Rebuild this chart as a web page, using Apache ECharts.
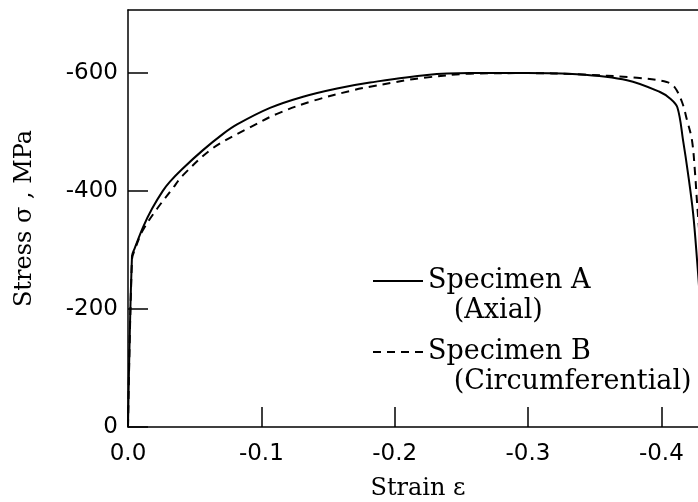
<!DOCTYPE html>
<html>
<head>
<meta charset="utf-8">
<script src="https://cdn.jsdelivr.net/npm/echarts@6/dist/echarts.min.js"></script>
<style>
html,body{margin:0;padding:0;background:#fff;}
#chart{width:698px;height:502px;}
</style>
</head>
<body>
<div id="chart"></div>
<script>
// Specimen A (Axial)
var strainA = [0, -0.003, -0.005, -0.0113, -0.018, -0.026, -0.0315, -0.0405, -0.056, -0.0713, -0.0818, -0.1065, -0.1313, -0.1568, -0.1815, -0.2243, -0.2565, -0.299, -0.3368, -0.3743, -0.399, -0.4065, -0.412, -0.4163, -0.42, -0.4238, -0.4268, -0.4295];
var stressA = [0, -290, -303, -339, -370, -400, -416, -437, -469, -497, -513, -541, -560, -574, -584, -597, -600, -600, -598, -588, -568, -557, -542, -486, -430, -363, -283, -200];
// Specimen B (Circumferential)
var strainB = [0, -0.003, -0.005, -0.011, -0.0218, -0.033, -0.0413, -0.0638, -0.0915, -0.1118, -0.1388, -0.1688, -0.1815, -0.1988, -0.2115, -0.2213, -0.2565, -0.299, -0.3368, -0.3818, -0.404, -0.41, -0.4155, -0.4193, -0.423, -0.4253, -0.4268, -0.4295];
var stressB = [0, -285, -300, -333, -370, -403, -427, -473, -508, -531, -553, -571, -577, -584, -589, -592, -599, -600, -598, -592, -585, -576, -551, -520, -486, -430, -380, -300];

var xTicks = [0, -0.1, -0.2, -0.3, -0.4];
var xTickLabels = ['0.0', '-0.1', '-0.2', '-0.3', '-0.4'];
var yTicks = [-600, -400, -200, 0];
var yTickLabels = ['-600', '-400', '-200', '0'];

var seriesNames = ['Specimen A', 'Specimen B'];
var seriesSub = ['(Axial)', '(Circumferential)'];

function pairs(xs, ys) { return xs.map(function (x, i) { return [x, ys[i]]; }); }

var chart = echarts.init(document.getElementById('chart'), null, {renderer: 'canvas'});
var axisLine = {show: true, lineStyle: {color: '#000', width: 1.5}};
chart.setOption({
  animation: false,
  backgroundColor: '#fff',
  grid: {left: 128, top: 10, right: 0, bottom: 75, containLabel: false, outerBoundsMode: 'none'},
  legend: {
    orient: 'vertical',
    left: 372, top: 236, padding: 0,
    itemWidth: 50, itemHeight: 14, itemGap: -19,
    data: seriesNames,
    itemStyle: {opacity: 0},
    formatter: function (name) {
      var i = seriesNames.indexOf(name);
      return '\n' + name + '\n   ' + seriesSub[i];
    },
    textStyle: {fontFamily: 'DejaVu Serif', fontSize: 27, lineHeight: 30, color: '#000'}
  },
  xAxis: [{
    type: 'value', min: -0.4275, max: 0, inverse: true, position: 'bottom',
    axisLine: axisLine,
    axisTick: {show: true, inside: true, length: 20, lineStyle: {color: '#000', width: 1.5}, customValues: xTicks},
    axisLabel: {customValues: xTicks, margin: 16, color: '#000', fontFamily: 'DejaVu Sans', fontSize: 23,
      formatter: function (v) { var i = xTicks.indexOf(v); return i >= 0 ? xTickLabels[i] : ''; }},
    splitLine: {show: false},
    name: 'Strain ε', nameLocation: 'middle', nameGap: 50,
    nameTextStyle: {fontFamily: 'DejaVu Serif', fontSize: 24, color: '#000', padding: [0, 0, 0, 10]}
  }, {
    type: 'value', min: -0.4275, max: 0, inverse: true, position: 'top',
    axisLine: axisLine, axisTick: {show: false}, axisLabel: {show: false}, splitLine: {show: false}
  }],
  yAxis: {
    type: 'value', min: -707, max: 0, inverse: true,
    axisLine: axisLine,
    axisTick: {show: true, inside: true, length: 20, lineStyle: {color: '#000', width: 1.5}, customValues: yTicks},
    axisLabel: {customValues: yTicks, margin: 10, color: '#000', fontFamily: 'DejaVu Sans', fontSize: 23,
      formatter: function (v) { var i = yTicks.indexOf(v); return i >= 0 ? yTickLabels[i] : ''; }},
    splitLine: {show: false},
    name: 'Stress σ , MPa', nameLocation: 'middle', nameGap: 91, nameRotate: 90,
    nameTextStyle: {fontFamily: 'DejaVu Serif', fontSize: 24, color: '#000'}
  },
  series: [{
    name: seriesNames[0], type: 'line', symbol: 'none', smooth: 0.35,
    data: pairs(strainA, stressA),
    lineStyle: {color: '#000', width: 2, type: 'solid'},
    itemStyle: {color: '#000'}
  }, {
    name: seriesNames[1], type: 'line', symbol: 'none', smooth: 0.35,
    data: pairs(strainB, stressB),
    lineStyle: {color: '#000', width: 2, type: [8, 6]},
    itemStyle: {color: '#000'}
  }]
});
</script>
</body>
</html>
